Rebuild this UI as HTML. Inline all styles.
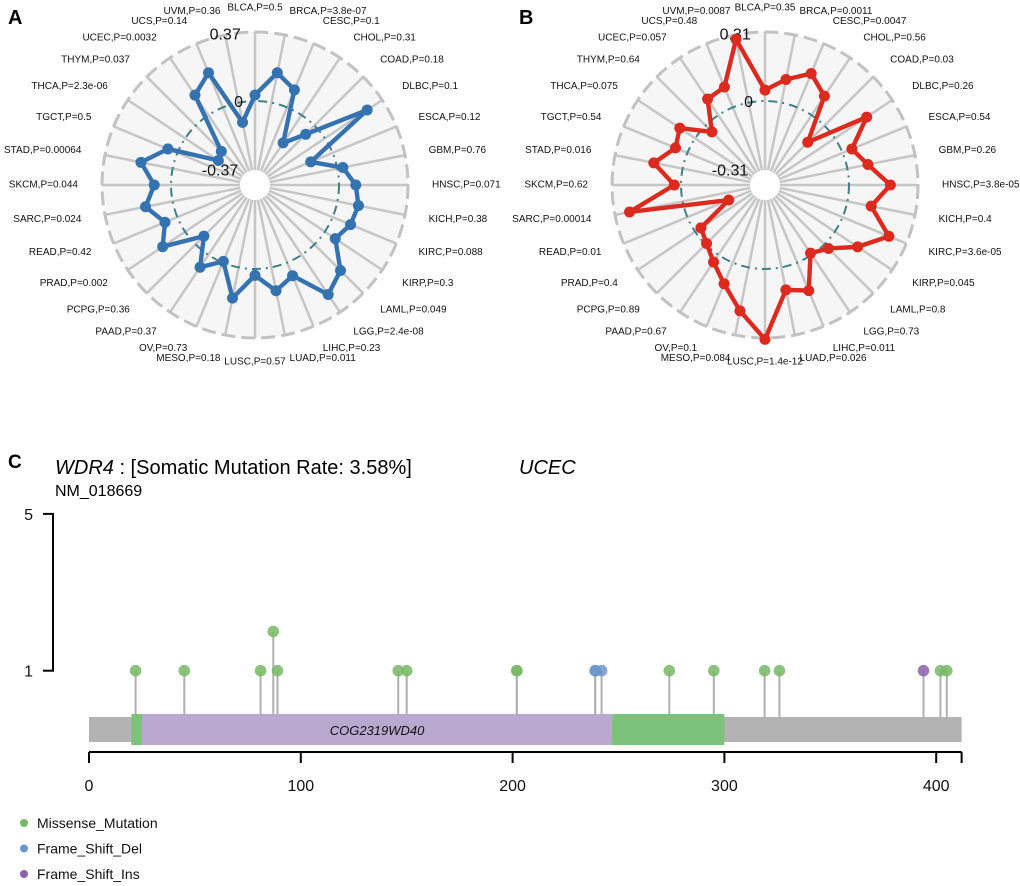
<!DOCTYPE html>
<html><head><meta charset="utf-8"><style>
body{margin:0;background:#fff;}
svg{display:block;font-family:"Liberation Sans",Arial,sans-serif;}
</style></head><body>
<svg id="fig" width="1020" height="886" viewBox="0 0 1020 886" xmlns="http://www.w3.org/2000/svg">
<text x="8" y="24" font-size="20" font-weight="bold">A</text>
<text x="519" y="24" font-size="20" font-weight="bold">B</text>
<g id="radarA"></g>
<g id="radarB"></g>
<text x="8" y="468" font-size="19" font-weight="bold">C</text>
<text x="55" y="474" font-size="20"><tspan font-style="italic">WDR4</tspan> : [Somatic Mutation Rate: 3.58%]</text>
<text x="55" y="496" font-size="16">NM_018669</text>
<text x="519" y="474" font-size="20" font-style="italic">UCEC</text>
<g id="lolli"></g>
</svg>
<script>
const NS="http://www.w3.org/2000/svg";
const cats=["BLCA","BRCA","CESC","CHOL","COAD","DLBC","ESCA","GBM","HNSC","KICH","KIRC","KIRP","LAML","LGG","LIHC","LUAD","LUSC","MESO","OV","PAAD","PCPG","PRAD","READ","SARC","SKCM","STAD","TGCT","THCA","THYM","UCEC","UCS","UVM"];
const pA=["0.5","3.8e-07","0.1","0.31","0.18","0.1","0.12","0.76","0.071","0.38","0.088","0.3","0.049","2.4e-08","0.23","0.011","0.57","0.18","0.73","0.37","0.36","0.002","0.42","0.024","0.044","0.00064","0.5","2.3e-06","0.037","0.0032","0.14","0.36"];
const valsA=[0.032,0.163,0.102,-0.179,-0.066,0.273,-0.127,0.03,0.09,0.115,0.104,0.067,0.198,0.256,0.076,0.128,0.034,0.168,-0.007,0.08,-0.063,0.145,0.072,0.148,0.09,0.173,0.055,-0.214,-0.195,0.129,0.201,-0.108];
const pB=["0.35","0.0011","0.0047","0.56","0.03","0.26","0.54","0.26","3.8e-05","0.4","3.6e-05","0.045","0.8","0.73","0.011","0.026","1.4e-12","0.084","0.1","0.67","0.89","0.4","0.01","0.00014","0.62","0.016","0.54","0.075","0.64","0.057","0.48","0.0087"];
const valsB=[0.049,0.106,0.165,0.103,-0.106,0.172,0.045,0.094,0.186,0.109,0.225,0.123,0.026,-0.009,0.136,0.103,0.316,0.199,0.103,0.039,-0.006,-0.031,-0.201,0.243,0.03,0.132,0.058,0.083,-0.04,0.087,0.099,0.29];
const limA=["0.37","0","-0.37"], limB=["0.31","0","-0.31"];

function el(tag,attrs,parent){const e=document.createElementNS(NS,tag);for(const k in attrs)e.setAttribute(k,attrs[k]);parent.appendChild(e);return e;}

function radar(g,cx,cy,vals,ps,lim,color){
  const R=153,r0=15,maxv=parseFloat(lim[0]);
  const rad=v=>r0+(v+maxv)/(2*maxv)*(R-r0);
  const ang=i=>i*2*Math.PI/cats.length;
  const pt=(i,r)=>[cx+r*Math.sin(ang(i)),cy-r*Math.cos(ang(i))];
  let d=el('circle',{cx:cx,cy:cy,r:R,fill:'#f6f6f6'},g);
  
  
  cats.forEach((c,i)=>{const a=pt(i,r0),b=pt(i,R);
    const s=el('line',{x1:a[0],y1:a[1],x2:b[0],y2:b[1],stroke:'#c6c6c6','stroke-width':2.5},g);
    
    });
  d=el('circle',{cx:cx,cy:cy,r:R,fill:'none',stroke:'#c2c2c2','stroke-width':3,'stroke-dasharray':'14 6'},g);
  
  
  d=el('circle',{cx:cx,cy:cy,r:rad(0),fill:'none',stroke:'#3d8089','stroke-width':2,'stroke-dasharray':'9 5 2 5'},g);
  
  
  d=el('circle',{cx:cx,cy:cy,r:r0,fill:'#fff'},g);
  
  
  [[maxv,lim[0]],[0,lim[1]],[-maxv,lim[2]]].forEach(([v,t],k)=>{
    let p=pt(cats.length-1,rad(v));
    if(k==2)p=[cx-35,cy-14];
    const tx=el('text',{x:p[0],y:p[1],'font-size':16,'text-anchor':'middle','dominant-baseline':'central',fill:'#111'},g);
    tx.textContent=t;
    
    
  });
  const pts=vals.map((v,i)=>pt(i,rad(v)));
  const pl=el('polygon',{points:pts.map(p=>p.join(',')).join(' '),fill:'none',stroke:color,'stroke-width':4.4,'stroke-linejoin':'round'},g);
  
  
  pts.forEach(p=>{const c=el('circle',{cx:p[0],cy:p[1],r:5.5,fill:color},g);
    
    });
  cats.forEach((c,i)=>{const p=pt(i,177);const s=Math.sin(ang(i));
    const anc=s>0.1?'start':(s<-0.1?'end':'middle');
    const t=el('text',{x:p[0],y:p[1],'font-size':10,'text-anchor':anc,'dominant-baseline':'central',fill:'#111'},g);
    t.textContent=c+',P='+ps[i];
    
    });
}
radar(document.getElementById('radarA'),255,185,valsA,pA,limA,'#3473b0');
radar(document.getElementById('radarB'),765,185,valsB,pB,limB,'#dc2a1e');

const mutPos=[22,45,81,87,89,146,150,202,202,239,239,242,274,295,319,326,394,402,405];
const mutCount=[1,1,1,2,1,1,1,1,1,1,1,1,1,1,1,1,1,1,1];
const mutType=["M","M","M","M","M","M","M","M","M","D","D","D","M","M","M","M","I","M","M"];
const domStart=[20,25,247];
const domEnd=[25,247,300];
const domName=["","COG2319WD40",""];
const protLen=412;
const xTicks=[0,100,200,300,400];
const yTicks=[1,5];
const legendNames=["Missense_Mutation","Frame_Shift_Del","Frame_Shift_Ins"];
const colors={M:'#77b866',D:'#6a97c9',I:'#8b61a9'};
(function(){
  const g=document.getElementById('lolli');
  const X=a=>89+a*2.118, Y=v=>670.7-(v-1)*39.2;
  let e=el('rect',{x:X(0),y:717,width:X(protLen)-X(0),height:25,fill:'#b3b3b3'},g);
  
  
  const dc=['#7cc27a','#b9a8d0','#7cc27a'];
  domStart.forEach((s,i)=>{const r=el('rect',{x:X(s),y:714,width:X(domEnd[i])-X(s),height:31,fill:dc[i]},g);
    
    
    if(domName[i]){const t=el('text',{x:(X(s)+X(domEnd[i]))/2,y:735,'font-size':13,'font-style':'italic','text-anchor':'middle',fill:'#111'},g);t.textContent=domName[i];
      
      }});
  mutPos.forEach((p,i)=>{const top=(p>=20&&p<=300)?714:717;
    const l=el('line',{x1:X(p),x2:X(p),y1:top,y2:Y(mutCount[i]),stroke:'#b0b0b0','stroke-width':2},g);
    
    });
  mutPos.forEach((p,i)=>{const c=el('circle',{cx:X(p),cy:Y(mutCount[i]),r:5.8,fill:colors[mutType[i]],'fill-opacity':0.85},g);
    
    });
  e=el('line',{x1:X(0),x2:X(protLen),y1:752,y2:752,stroke:'#000','stroke-width':2},g);
  
  
  xTicks.concat([protLen]).forEach((t,k)=>{const tl=el('line',{x1:X(t),x2:X(t),y1:752,y2:763,stroke:'#000','stroke-width':2},g);
    
    
    if(k<xTicks.length){const tx=el('text',{x:X(t),y:791,'font-size':16,'text-anchor':'middle',fill:'#111'},g);tx.textContent=t;
      
      }});
  e=el('line',{x1:53,x2:53,y1:Y(5),y2:Y(1),stroke:'#000','stroke-width':2},g);
  
  
  yTicks.forEach(t=>{const tl=el('line',{x1:43,x2:54,y1:Y(t),y2:Y(t),stroke:'#000','stroke-width':2},g);
    
    
    const tx=el('text',{x:33,y:Y(t)+6,'font-size':16,'text-anchor':'end',fill:'#111'},g);tx.textContent=t;
    
    });
  const lc=[colors.M,colors.D,colors.I];
  legendNames.forEach((n,i)=>{const yy=823+i*25.5;
    const c=el('circle',{cx:24,cy:yy,r:4,fill:lc[i]},g);
    
    
    const t=el('text',{x:37,y:yy+5,'font-size':14,fill:'#111'},g);t.textContent=n;
    
    });
})();
</script>
</body></html>
